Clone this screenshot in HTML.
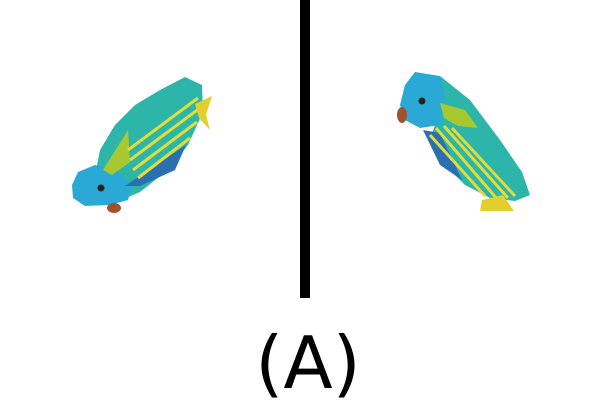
<!DOCTYPE html>
<html><head><meta charset="utf-8"><style>
html,body{margin:0;padding:0;background:#fff;}
svg{display:block}
</style></head><body>
<svg width="610" height="400" viewBox="0 0 610 400" xmlns="http://www.w3.org/2000/svg">
<g>
  <polygon points="110,205 140,192 168,170 188,145 203,112 202,85 185,77 160,90 135,105 115,125 100,150 95,175" fill="#2cb5a8"/>
  <polygon points="72,185 78,172 95,165 115,170 132,185 128,200 110,205 85,206 73,198" fill="#2aa8d6"/>
  <polygon points="103,170 128,130 130,162 112,175" fill="#a8c830"/>
  <polygon points="125,186 186,145 175,170 140,186" fill="#2a6fb0"/>
  <g stroke="#e0dc3c" stroke-width="3" fill="none">
    <line x1="128" y1="150" x2="198" y2="98"/>
    <line x1="130" y1="160" x2="200" y2="108"/>
    <line x1="133" y1="170" x2="197" y2="122"/>
    <line x1="138" y1="178" x2="190" y2="138"/>
  </g>
  <polygon points="195,104 212,96 206,115 210,130 199,118" fill="#e2cf2c"/>
  <circle cx="101" cy="188" r="3.5" fill="#222"/>
  <ellipse cx="114" cy="208" rx="7" ry="5" fill="#a0522d"/>
</g>
<g>
  <polygon points="440,76 470,100 500,140 522,172 530,195 515,201 490,198 465,185 445,165 430,140 440,110" fill="#2cb5a8"/>
  <polygon points="405,85 415,72 440,76 445,95 440,125 420,128 405,120 400,105" fill="#2aa8d6"/>
  <polygon points="440,103 465,110 478,128 458,126 444,118" fill="#a8c830"/>
  <polygon points="423,130 440,133 462,180 440,165" fill="#2a6fb0"/>
  <g stroke="#e0dc3c" stroke-width="3" fill="none">
    <line x1="436" y1="128" x2="498" y2="200"/>
    <line x1="444" y1="126" x2="508" y2="198"/>
    <line x1="452" y1="128" x2="515" y2="196"/>
    <line x1="430" y1="135" x2="485" y2="196"/>
  </g>
  <polygon points="482,200 503,195 514,211 480,211" fill="#e2cf2c"/>
  <circle cx="422" cy="101" r="3.5" fill="#222"/>
  <ellipse cx="402" cy="115" rx="5" ry="8" fill="#a0522d"/>
</g>
<rect x="300" y="0" width="10" height="298" fill="#000"/>
<text x="308" y="388" text-anchor="middle" font-family="DejaVu Sans, sans-serif" font-size="72" fill="#000">(A)</text>
</svg>
</body></html>
